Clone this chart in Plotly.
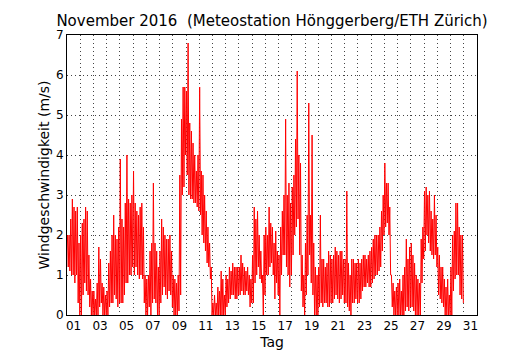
import numpy as np
import plotly.graph_objects as go

# ---- text ----
title_text = "November 2016  (Meteostation Hönggerberg/ETH Zürich)"
x_title = "Tag"
y_title = "Windgeschwindigkeit (m/s)"

# ---- axis ticks ----
day_ticks = list(range(1, 32, 2))
day_labels = [f"{d:02d}" for d in day_ticks]
y_ticks = [0, 1, 2, 3, 4, 5, 6, 7]

# ---- wind speed (m/s): highest and lowest reading in each 3-hour block,
#      8 blocks per day ----
bins_per_day = 8
wind_hi = [
    2.0, 2.0, 2.4, 2.9, 2.7, 2.6, 2.7, 1.8,   # 01
    2.0, 2.3, 2.4, 2.7, 2.6, 1.5, 0.9, 0.6,   # 02
    0.6, 0.4, 0.8, 1.7, 1.4, 0.8, 0.7, 0.5,   # 03
    0.6, 1.3, 1.6, 2.0, 2.5, 2.0, 1.9, 2.2,   # 04
    3.9, 2.4, 2.2, 2.8, 4.0, 2.9, 2.8, 3.0,   # 05
    3.6, 2.8, 2.6, 2.5, 2.7, 2.8, 2.2, 1.0,   # 06
    0.9, 1.0, 1.6, 1.8, 3.3, 1.8, 1.6, 1.2,   # 07
    1.6, 2.4, 2.2, 2.0, 1.9, 1.9, 2.0, 1.6,   # 08
    1.0, 0.9, 0.8, 1.0, 3.5, 4.9, 5.7, 5.7,   # 09
    5.6, 6.8, 4.8, 4.6, 4.3, 4.0, 3.6, 4.0,   # 10
    5.7, 3.6, 3.5, 3.0, 2.6, 2.2, 1.8, 1.2,   # 11
    0.3, 0.5, 0.3, 0.7, 0.6, 1.1, 0.9, 0.5,   # 12
    1.0, 0.9, 1.2, 1.1, 1.3, 1.2, 1.2, 1.2,   # 13
    1.2, 1.5, 1.3, 1.2, 1.1, 1.2, 1.0, 0.9,   # 14
    1.5, 2.7, 2.4, 2.6, 2.0, 1.6, 1.0, 2.0,   # 15
    2.2, 2.0, 2.7, 2.3, 2.2, 1.8, 2.1, 1.6,   # 16
    1.5, 2.2, 2.6, 3.0, 4.9, 3.0, 3.3, 2.8,   # 17
    3.2, 3.5, 4.4, 6.1, 4.0, 3.8, 1.5, 1.0,   # 18
    1.8, 2.5, 5.3, 2.5, 4.5, 1.8, 1.2, 1.0,   # 19
    1.2, 2.5, 1.4, 1.4, 1.2, 1.3, 1.6, 1.5,   # 20
    1.4, 1.5, 1.7, 1.6, 1.5, 1.6, 1.6, 1.4,   # 21
    1.4, 3.1, 1.3, 1.0, 1.4, 1.4, 1.3, 1.3,   # 22
    1.4, 1.3, 1.4, 1.5, 1.5, 1.4, 1.5, 1.6,   # 23
    1.7, 1.9, 2.0, 2.0, 2.0, 2.2, 2.6, 3.0,   # 24
    3.8, 3.3, 3.3, 2.7, 1.0, 0.8, 0.6, 0.7,   # 25
    0.8, 0.9, 0.6, 1.0, 1.2, 1.9, 1.4, 1.7,   # 26
    1.8, 1.5, 1.3, 1.0, 0.9, 0.8, 1.9, 2.2,   # 27
    3.1, 3.2, 3.0, 3.1, 2.6, 2.4, 3.0, 2.5,   # 28
    1.7, 1.5, 1.2, 1.2, 0.9, 0.7, 0.9, 0.5,   # 29
    1.2, 2.0, 2.1, 2.8, 2.8, 2.2, 2.0, 2.0,   # 30
]
wind_lo = [
    1.2, 1.1, 1.0, 1.0, 0.8, 1.0, 0.3, 0.0,   # 01
    0.0, 0.5, 0.8, 0.6, 0.5, 0.2, 0.0, 0.0,   # 02
    0.0, 0.0, 0.0, 0.2, 0.3, 0.0, 0.0, 0.0,   # 03
    0.0, 0.2, 0.3, 0.3, 0.5, 0.4, 0.2, 0.3,   # 04
    0.3, 0.3, 0.5, 0.8, 0.8, 1.0, 1.0, 1.2,   # 05
    1.0, 1.2, 1.0, 0.9, 1.0, 0.9, 0.3, 0.0,   # 06
    0.0, 0.2, 0.0, 0.3, 0.4, 0.3, 0.0, 0.0,   # 07
    0.3, 0.5, 0.7, 0.5, 0.4, 0.6, 0.5, 0.2,   # 08
    0.0, 0.0, 0.0, 0.1, 0.5, 3.0, 3.2, 4.0,   # 09
    3.5, 3.0, 2.9, 2.9, 2.8, 2.8, 2.7, 2.6,   # 10
    2.5, 2.0, 1.8, 1.6, 1.3, 1.2, 0.9, 0.0,   # 11
    0.0, 0.0, 0.0, 0.0, 0.0, 0.0, 0.0, 0.0,   # 12
    0.2, 0.3, 0.4, 0.5, 0.5, 0.4, 0.4, 0.5,   # 13
    0.5, 0.6, 0.5, 0.5, 0.6, 0.5, 0.2, 0.3,   # 14
    0.3, 0.8, 1.0, 1.2, 0.9, 0.8, 0.0, 0.5,   # 15
    1.0, 1.0, 1.2, 1.3, 1.0, 0.4, 0.8, 0.5,   # 16
    0.0, 1.0, 1.5, 1.5, 1.2, 1.0, 0.7, 1.0,   # 17
    1.5, 2.0, 2.2, 2.4, 1.5, 0.6, 0.2, 0.0,   # 18
    0.5, 1.0, 1.5, 0.8, 0.5, 0.0, 0.0, 0.0,   # 19
    0.2, 0.3, 0.2, 0.3, 0.3, 0.2, 0.2, 0.3,   # 20
    0.3, 0.4, 0.5, 0.4, 0.3, 0.4, 0.5, 0.3,   # 21
    0.3, 0.2, 0.1, 0.0, 0.3, 0.3, 0.4, 0.3,   # 22
    0.3, 0.4, 0.6, 0.7, 0.7, 0.8, 0.7, 0.7,   # 23
    0.8, 0.9, 1.0, 1.0, 1.1, 1.2, 1.6, 2.0,   # 24
    2.2, 2.3, 2.0, 1.0, 0.2, 0.0, 0.0, 0.0,   # 25
    0.0, 0.0, 0.0, 0.0, 0.1, 0.2, 0.1, 0.2,   # 26
    0.2, 0.1, 0.0, 0.0, 0.0, 0.0, 0.8, 1.4,   # 27
    1.6, 2.0, 1.8, 1.6, 1.5, 1.4, 1.5, 1.2,   # 28
    0.5, 0.4, 0.3, 0.2, 0.0, 0.0, 0.0, 0.0,   # 29
    0.0, 0.6, 0.9, 1.0, 1.0, 0.5, 0.4, 0.3,   # 30
]

# day coordinate: label "01" centred on Nov 1, so Nov 1 00:00 is 0.5.
# Each block is drawn as a high and a low reading, giving the dense trace.
n_bins = len(wind_hi)
block_start = 0.5 + np.arange(n_bins) / bins_per_day
x_trace = np.empty(2 * n_bins)
y_trace = np.empty(2 * n_bins)
x_trace[0::2] = block_start + 0.25 / bins_per_day
x_trace[1::2] = block_start + 0.75 / bins_per_day
y_trace[0::2] = wind_hi
y_trace[1::2] = wind_lo

grid_style = dict(gridcolor="#444444", gridwidth=1, griddash="1px,3px")
font_family = "DejaVu Sans, Verdana, sans-serif"

fig = go.Figure()
fig.add_trace(go.Scatter(
    x=x_trace, y=y_trace, mode="lines",
    line=dict(color="#ff0000", width=1),
    hoverinfo="skip", showlegend=False,
))

# the page body adds an 8px offset, so margins are shifted to compensate
fig.update_layout(
    width=530, height=350,
    margin=dict(l=59, r=61, t=27, b=43),
    paper_bgcolor="white", plot_bgcolor="white",
    font=dict(family=font_family, size=12, color="black"),
    title=dict(text=title_text, x=0.5, xref="paper", xanchor="center",
               y=1 - 13 / 350, yref="container", yanchor="middle",
               font=dict(family=font_family, size=15, color="black")),
    xaxis=dict(
        range=[0.5, 31.5], tickmode="array", tickvals=day_ticks, ticktext=day_labels,
        showgrid=False, zeroline=False, ticks="", automargin=False,
        showline=True, mirror=True, linecolor="black", linewidth=1,
        minor=dict(tickmode="array", tickvals=list(np.arange(1.5, 31.0, 1.0)),
                   showgrid=True, ticks="", **grid_style),
        title=dict(text=x_title, standoff=4),
        tickfont=dict(size=12),
    ),
    yaxis=dict(
        range=[0, 7], tickmode="array", tickvals=y_ticks,
        showgrid=True, zeroline=False, ticks="", automargin=False, **grid_style,
        showline=True, mirror=True, linecolor="black", linewidth=1,
        title=dict(text=y_title, standoff=3),
        tickfont=dict(size=12),
    ),
)

fig.write_html("out.html")
